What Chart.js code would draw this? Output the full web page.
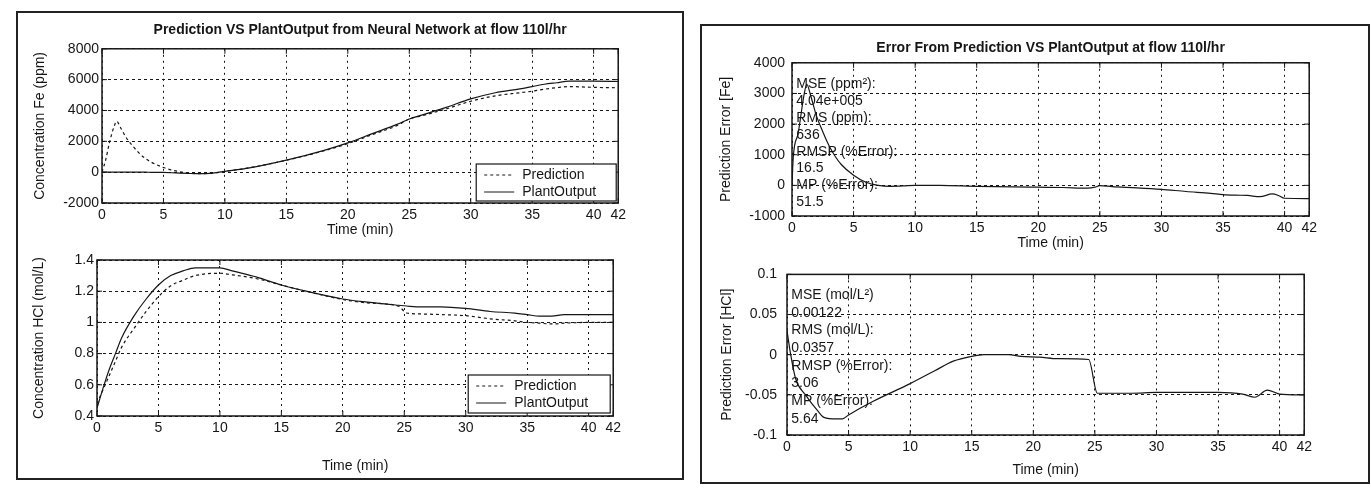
<!DOCTYPE html>
<html>
<head>
<meta charset="utf-8">
<script src="https://cdn.jsdelivr.net/npm/chart.js@4.4.1/dist/chart.umd.min.js"></script>
<style>
  body { margin: 0; background: #fff; width: 1371px; height: 490px; position: relative; overflow: hidden; }
  .frame { position: absolute; border: 2px solid #222; }
  canvas { position: absolute; }
</style>
</head>
<body>
<div class="frame" style="left:16px;top:11px;width:664px;height:465px"></div>
<div class="frame" style="left:700px;top:24px;width:666px;height:456px"></div>
<canvas id="feChart" width="610" height="232" style="left:20px;top:14px"></canvas>
<canvas id="hclChart" width="610" height="230" style="left:15px;top:248px"></canvas>
<canvas id="feErrChart" width="616" height="234" style="left:705px;top:28px"></canvas>
<canvas id="hclErrChart" width="616" height="224" style="left:700px;top:256px"></canvas>
<script>
const timeTicks = [0, 5, 10, 15, 20, 25, 30, 35, 40, 42];

// Fe concentration (ppm)
const feTime = [0, 0.3, 0.6, 1, 1.2, 1.5, 2, 2.5, 3, 3.5, 4, 5, 6, 7, 8, 9, 10, 12, 15, 18, 20, 22, 24, 25, 26, 28, 30, 32, 34, 35, 36, 37, 38, 40, 42];
const fePrediction = [0, 800, 1900, 3000, 3300, 2900, 2200, 1700, 1250, 900, 650, 300, 80, -50, -100, -60, 50, 290, 770, 1370, 1850, 2440, 3020, 3450, 3650, 4100, 4600, 4950, 5150, 5250, 5380, 5480, 5550, 5500, 5470];
const fePlant = [0, 0, 0, 0, 0, 0, 0, 0, 0, 0, -10, -20, -50, -80, -100, -60, 50, 280, 780, 1400, 1900, 2500, 3100, 3450, 3700, 4200, 4750, 5150, 5400, 5550, 5700, 5800, 5900, 5900, 5880];
const feTicks = [-2000, 0, 2000, 4000, 6000, 8000];

// HCl concentration (mol/L)
const hclTime = [0, 0.5, 1, 1.5, 2, 3, 4, 5, 6, 7, 8, 10, 11, 13, 15, 17, 20, 22, 24.5, 25.2, 26, 28, 30, 32, 34, 35, 36, 37, 38, 40, 42];
const hclPrediction = [0.48, 0.57, 0.66, 0.75, 0.84, 0.96, 1.07, 1.165, 1.235, 1.27, 1.3, 1.315, 1.305, 1.28, 1.24, 1.2, 1.147, 1.125, 1.105, 1.06, 1.055, 1.05, 1.043, 1.023, 1.01, 1.0, 0.995, 0.99, 0.995, 1.0, 1.0];
const hclPlant = [0.45, 0.58, 0.7, 0.8, 0.9, 1.04, 1.15, 1.24, 1.3, 1.33, 1.35, 1.35, 1.33, 1.29, 1.24, 1.2, 1.15, 1.13, 1.11, 1.105, 1.1, 1.1, 1.09, 1.07, 1.06, 1.05, 1.04, 1.04, 1.05, 1.05, 1.05];
const hclTicks = [0.4, 0.6, 0.8, 1, 1.2, 1.4];

// prediction error, Fe
const feErrTime = [0, 0.1, 0.5, 1, 1.2, 1.5, 2, 2.5, 3, 3.5, 4, 5, 6, 7, 8, 9, 10, 12, 15, 18, 20, 22, 24, 24.6, 25, 26, 28, 30, 32, 34, 35, 36, 37, 38, 39, 39.5, 40, 42];
const feError = [0, 900, 1700, 3000, 3300, 2950, 2250, 1750, 1300, 950, 680, 330, 100, 0, -30, -20, 0, 0, -30, -50, -60, -70, -90, -60, -10, -40, -80, -130, -200, -260, -300, -320, -330, -370, -280, -330, -420, -430];
const feErrTicks = [-1000, 0, 1000, 2000, 3000, 4000];
const feStats = ['MSE (ppm²):', '4.04e+005', 'RMS (ppm):', '636', 'RMSP (%Error):', '16.5', 'MP (%Error):', '51.5'];

// prediction error, HCl
const hclErrTime = [0, 0.3, 0.7, 1.5, 2.5, 3, 4, 4.5, 5, 7, 10, 12, 13.5, 15, 16, 18, 19, 20.5, 22, 24.5, 25.2, 28, 30, 35, 37, 38, 39, 40, 42];
const hclError = [0.03, 0.0, -0.03, -0.05, -0.07, -0.078, -0.08, -0.08, -0.075, -0.058, -0.036, -0.02, -0.008, -0.002, 0, 0, -0.002, -0.003, -0.005, -0.006, -0.048, -0.048, -0.047, -0.047, -0.049, -0.053, -0.044, -0.049, -0.05];
const hclErrTicks = [-0.1, -0.05, 0, 0.05, 0.1];
const hclStats = ['MSE (mol/L²)', '0.00122', 'RMS (mol/L):', '0.0357', 'RMSP (%Error):', '3.06', 'MP (%Error):', '5.64'];

const FONT = 'Liberation Sans, Arial, sans-serif';
const INK = '#161616';

const toPoints = (xs, ys) => xs.map((x, i) => ({ x, y: ys[i] }));

// box + inward tick marks like MATLAB axes
const axesBox = {
  id: 'axesBox',
  afterDraw(chart) {
    const { ctx, chartArea: a, scales: { x, y } } = chart;
    ctx.save();
    ctx.strokeStyle = INK;
    ctx.lineWidth = 1.5;
    ctx.setLineDash([]);
    ctx.strokeRect(a.left, a.top, a.right - a.left, a.bottom - a.top);
    ctx.lineWidth = 1;
    ctx.beginPath();
    x.ticks.forEach((t) => {
      const px = x.getPixelForValue(t.value);
      ctx.moveTo(px, a.bottom); ctx.lineTo(px, a.bottom - 5);
      ctx.moveTo(px, a.top); ctx.lineTo(px, a.top + 5);
    });
    y.ticks.forEach((t) => {
      const py = y.getPixelForValue(t.value);
      ctx.moveTo(a.left, py); ctx.lineTo(a.left + 5, py);
      ctx.moveTo(a.right, py); ctx.lineTo(a.right - 5, py);
    });
    ctx.stroke();
    ctx.restore();
  }
};

// boxed legend in lower right corner of the axes
const boxLegend = {
  id: 'boxLegend',
  afterDraw(chart, args, opts) {
    if (!opts.show) return;
    const { ctx, chartArea: a } = chart;
    const w = opts.width, h = opts.height;
    const left = a.right - opts.gap - w;
    const top = a.bottom - opts.gap - h;
    ctx.save();
    ctx.fillStyle = '#fff';
    ctx.fillRect(left, top, w, h);
    ctx.strokeStyle = INK;
    ctx.lineWidth = 1.2;
    ctx.setLineDash([]);
    ctx.strokeRect(left, top, w, h);
    ctx.font = '14px ' + FONT;
    ctx.fillStyle = INK;
    ctx.textBaseline = 'middle';
    chart.data.datasets.forEach((ds, i) => {
      const yy = top + 11 + i * 17;
      ctx.beginPath();
      ctx.setLineDash(ds.borderDash || []);
      ctx.lineWidth = 1;
      ctx.moveTo(left + 8, yy);
      ctx.lineTo(left + 38, yy);
      ctx.stroke();
      ctx.setLineDash([]);
      ctx.fillText(ds.label, left + 46, yy);
    });
    ctx.restore();
  }
};

// statistics text written inside the error axes
const statText = {
  id: 'statText',
  afterDatasetsDraw(chart, args, opts) {
    if (!opts.lines) return;
    const { ctx, scales: { x, y } } = chart;
    ctx.save();
    ctx.font = '14px ' + FONT;
    ctx.fillStyle = INK;
    ctx.textBaseline = 'middle';
    opts.lines.forEach((txt, i) => {
      const px = x.getPixelForValue(opts.x[i]);
      const py = y.getPixelForValue(opts.y[i]);
      ctx.fillText(txt, px, py);
    });
    ctx.restore();
  }
};

function makeChart(id, cfg) {
  const datasets = cfg.series.map((s) => ({
    label: s.label,
    data: toPoints(s.x, s.y),
    borderColor: INK,
    borderWidth: 1.2,
    borderDash: s.dash,
    pointRadius: 0,
    fill: false,
    cubicInterpolationMode: 'monotone'
  }));

  return new Chart(document.getElementById(id), {
    type: 'line',
    data: { datasets },
    plugins: [axesBox, boxLegend, statText],
    options: {
      responsive: false,
      animation: false,
      layout: { padding: { top: cfg.padTop, right: cfg.padRight, left: 0, bottom: 0 } },
      plugins: {
        legend: { display: false },
        tooltip: { enabled: false },
        title: {
          display: !!cfg.title,
          text: cfg.title,
          fullSize: false,
          color: INK,
          font: { family: FONT, size: 14, weight: 'bold', lineHeight: 1.2 },
          padding: cfg.titlePad || 0
        },
        boxLegend: cfg.legend || { show: false },
        statText: cfg.stats || {}
      },
      scales: {
        x: {
          type: 'linear',
          min: 0,
          max: 42,
          afterBuildTicks: (s) => { s.ticks = timeTicks.map((v) => ({ value: v })); },
          afterFit: (s) => { s.height = cfg.xHeight; },
          grid: { color: INK, lineWidth: 1, drawTicks: false },
          border: { display: false, dash: [2, 4] },
          ticks: { color: INK, font: { family: FONT, size: 14 }, padding: 4, maxRotation: 0, autoSkip: false },
          title: {
            display: true,
            text: 'Time (min)',
            color: INK,
            font: { family: FONT, size: 14, lineHeight: 1.2 },
            padding: { top: 0, bottom: cfg.xTitlePad }
          }
        },
        y: {
          type: 'linear',
          min: cfg.yTicks[0],
          max: cfg.yTicks[cfg.yTicks.length - 1],
          afterBuildTicks: (s) => { s.ticks = cfg.yTicks.map((v) => ({ value: v })); },
          afterFit: (s) => { s.width = cfg.yWidth; },
          grid: { color: INK, lineWidth: 1, drawTicks: false },
          border: { display: false, dash: [3, 3] },
          ticks: {
            color: INK,
            font: { family: FONT, size: 14 },
            padding: cfg.yTickPad,
            autoSkip: false,
            callback: (v) => String(Math.round(v * 1000) / 1000)
          },
          title: {
            display: true,
            text: cfg.yTitle,
            color: INK,
            font: { family: FONT, size: 14, lineHeight: 1.2 },
            padding: { top: cfg.yTitlePad, bottom: 0 }
          }
        }
      }
    }
  });
}

makeChart('feChart', {
  title: 'Prediction VS PlantOutput from Neural Network at flow 110l/hr',
  titlePad: { top: 8, bottom: 10 },
  padTop: 0, padRight: 10,
  xHeight: 43, xTitlePad: 7,
  yWidth: 82, yTickPad: 3, yTitlePad: 12,
  yTitle: 'Concentration Fe (ppm)',
  yTicks: feTicks,
  series: [
    { label: 'Prediction', x: feTime, y: fePrediction, dash: [3, 3] },
    { label: 'PlantOutput', x: feTime, y: fePlant, dash: [] }
  ],
  legend: { show: true, width: 140, height: 37, gap: 2 }
});

makeChart('hclChart', {
  padTop: 12, padRight: 10,
  xHeight: 62, xTitlePad: 3,
  yWidth: 82, yTickPad: 3, yTitlePad: 16,
  yTitle: 'Concentration HCl (mol/L)',
  yTicks: hclTicks,
  series: [
    { label: 'Prediction', x: hclTime, y: hclPrediction, dash: [3, 3] },
    { label: 'PlantOutput', x: hclTime, y: hclPlant, dash: [] }
  ],
  legend: { show: true, width: 142, height: 38, gap: 3 }
});

makeChart('feErrChart', {
  title: 'Error From Prediction VS PlantOutput at flow 110l/hr',
  titlePad: { top: 12, bottom: 6 },
  padTop: 0, padRight: 10,
  xHeight: 46, xTitlePad: 10,
  yWidth: 87, yTickPad: 7, yTitlePad: 13,
  yTitle: 'Prediction Error [Fe]',
  yTicks: feErrTicks,
  series: [
    { label: 'Error', x: feErrTime, y: feError, dash: [] }
  ],
  stats: {
    lines: feStats,
    x: [0.35, 0.35, 0.35, 0.35, 0.35, 0.35, 0.35, 0.35],
    y: [3300, 2750, 2200, 1650, 1100, 550, 0, -550]
  }
});

makeChart('hclErrChart', {
  padTop: 12, padRight: 10,
  xHeight: 45, xTitlePad: 1,
  yWidth: 87, yTickPad: 10, yTitlePad: 19,
  yTitle: 'Prediction Error [HCl]',
  yTicks: hclErrTicks,
  series: [
    { label: 'Error', x: hclErrTime, y: hclError, dash: [] }
  ],
  stats: {
    lines: hclStats,
    x: [0.35, 0.35, 0.35, 0.35, 0.35, 0.35, 0.35, 0.35],
    y: [0.074, 0.052, 0.03, 0.008, -0.014, -0.036, -0.058, -0.08]
  }
});
</script>
</body>
</html>
